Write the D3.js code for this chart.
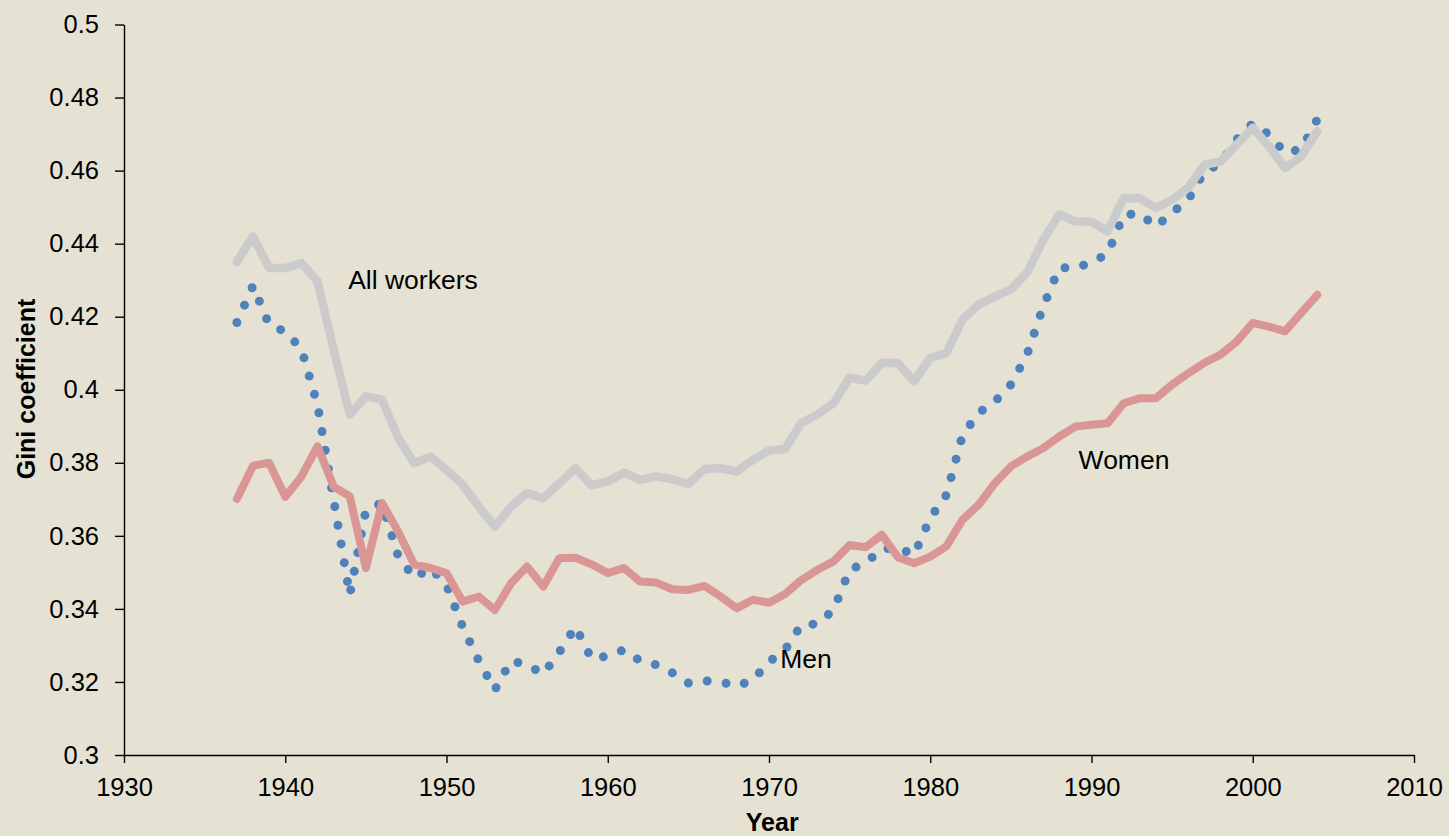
<!DOCTYPE html>
<html>
<head>
<meta charset="utf-8">
<script src="https://cdn.jsdelivr.net/npm/d3@7"></script>
<style>
    body { margin: 0; background: #E5E2D3; }
    svg { display: block; font-family: "Liberation Sans", Arial, sans-serif; }
</style>
</head>
<body>
<svg id="chart" width="1449" height="836"></svg>
<script>
// Data, 1937-2004
const years = d3.range(1937, 2005);

const allWorkers = [
    0.435, 0.442, 0.4333, 0.4333, 0.4347, 0.4297, 0.411, 0.3932, 0.3982, 0.3973,
    0.3868, 0.3799, 0.3817, 0.3781, 0.374, 0.368, 0.3625, 0.368, 0.3717, 0.3703,
    0.3744, 0.3785, 0.3738, 0.3749, 0.3773, 0.3753, 0.3763, 0.3755, 0.3742, 0.3783,
    0.3785, 0.3776, 0.3808, 0.3834, 0.3838, 0.3909, 0.3932, 0.3963, 0.4033, 0.4025,
    0.4074, 0.4073, 0.4023, 0.4087, 0.41, 0.4192, 0.4233, 0.4255, 0.4275, 0.432,
    0.441, 0.448, 0.4461, 0.446, 0.4434, 0.4525, 0.4524, 0.4498, 0.452, 0.4553,
    0.4616, 0.4625, 0.4671, 0.4717, 0.4667, 0.4607, 0.4639, 0.4708
];

const men = [
    0.4184, 0.4285, 0.4178, 0.4159, 0.4112, 0.3959, 0.3699, 0.3438, 0.367, 0.369,
    0.3545, 0.3485, 0.3512, 0.3466, 0.3351, 0.3258, 0.3178, 0.3258, 0.3247, 0.3222,
    0.3282, 0.3351, 0.3263, 0.3271, 0.3288, 0.3258, 0.3247, 0.3225, 0.3197, 0.3203,
    0.32, 0.3189, 0.3205, 0.3255, 0.3288, 0.3356, 0.3359, 0.3397, 0.3507, 0.3526,
    0.3564, 0.3567, 0.3548, 0.3649, 0.3712, 0.3875, 0.3937, 0.3967, 0.4014, 0.4096,
    0.4227, 0.4334, 0.4334, 0.4348, 0.4373, 0.4479, 0.4482, 0.4447, 0.4485, 0.452,
    0.4597, 0.4619, 0.4685, 0.4729, 0.4699, 0.4649, 0.4658, 0.474
];

const women = [
    0.3701, 0.3792, 0.38, 0.3707, 0.3762, 0.3845, 0.3735, 0.3708, 0.3512, 0.369,
    0.3612, 0.3521, 0.3512, 0.3498, 0.342, 0.3434, 0.3397, 0.347, 0.3516, 0.3461,
    0.3539, 0.354, 0.3522, 0.3498, 0.3512, 0.3475, 0.3472, 0.3454, 0.3452, 0.3463,
    0.3434, 0.3402, 0.3425, 0.3417, 0.3441, 0.3479, 0.3507, 0.353, 0.3575, 0.3569,
    0.3603, 0.3541, 0.3525, 0.3543, 0.3571, 0.3644, 0.3685, 0.3744, 0.379, 0.3817,
    0.384, 0.3872, 0.3899, 0.3904, 0.3908, 0.3963, 0.3977, 0.3977, 0.4014, 0.4045,
    0.4074, 0.4096, 0.4132, 0.4183, 0.4173, 0.416, 0.421, 0.426
];

const xTicks = d3.range(1930, 2011, 10);
const yTicks = [0.3, 0.32, 0.34, 0.36, 0.38, 0.4, 0.42, 0.44, 0.46, 0.48, 0.5];

// Labels placed next to each series
const seriesLabels = [
    { text: 'All workers', year: 1943.9, value: 0.4277 },
    { text: 'Men', year: 1970.7, value: 0.3238 },
    { text: 'Women', year: 1989.2, value: 0.3782 }
];

const svg = d3.select('#chart');
const margin = { top: 24.5, right: 35, bottom: 81, left: 124 };
const width = 1449 - margin.left - margin.right;
const height = 836 - margin.top - margin.bottom;

const x = d3.scaleLinear().domain([1930, 2010]).range([0, width]);
const y = d3.scaleLinear().domain([0.3, 0.5]).range([height, 0]);

const g = svg.append('g').attr('transform', `translate(${margin.left},${margin.top})`);

// Axes
const xAxis = g.append('g')
    .attr('transform', `translate(0,${height})`)
    .call(d3.axisBottom(x).tickValues(xTicks).tickFormat(d3.format('d')).tickSize(8).tickPadding(15).tickSizeOuter(0));

const yAxis = g.append('g')
    .call(d3.axisLeft(y).tickValues(yTicks).tickFormat(d => String(+d.toFixed(2))).tickSize(9).tickPadding(16).tickSizeOuter(0));

[xAxis, yAxis].forEach(ax => {
    ax.select('.domain').attr('stroke', '#000').attr('stroke-width', 1.4);
    ax.selectAll('.tick line').attr('stroke', '#000').attr('stroke-width', 1.4);
    ax.selectAll('.tick text').attr('fill', '#000').style('font-size', '25.5px')
        .style('font-family', '"Liberation Sans", Arial, sans-serif');
});

// Lines
const line = d3.line()
    .x((d, i) => x(years[i]))
    .y(d => y(d));

g.append('path')
    .datum(men)
    .attr('fill', 'none')
    .attr('stroke', '#4F81BD')
    .attr('stroke-width', 9)
    .attr('stroke-linecap', 'round')
    .attr('stroke-dasharray', '0,19')
    .attr('d', line);

g.append('path')
    .datum(women)
    .attr('fill', 'none')
    .attr('stroke', '#D99694')
    .attr('stroke-width', 8)
    .attr('stroke-linejoin', 'round')
    .attr('stroke-linecap', 'round')
    .attr('d', line);

g.append('path')
    .datum(allWorkers)
    .attr('fill', 'none')
    .attr('stroke', '#CBCBCB')
    .attr('stroke-width', 8.5)
    .attr('stroke-linejoin', 'round')
    .attr('stroke-linecap', 'round')
    .attr('d', line);

// Series labels
g.selectAll('.series-label')
    .data(seriesLabels)
    .enter()
    .append('text')
    .attr('class', 'series-label')
    .attr('x', d => x(d.year))
    .attr('y', d => y(d.value))
    .style('font-size', '26.5px')
    .attr('fill', '#000')
    .text(d => d.text);

// Axis titles
svg.append('text')
    .attr('x', margin.left + x(1970.2))
    .attr('y', 831)
    .attr('text-anchor', 'middle')
    .style('font-size', '25px')
    .style('font-weight', 'bold')
    .text('Year');

svg.append('text')
    .attr('transform', 'translate(35,389) rotate(-90)')
    .attr('text-anchor', 'middle')
    .style('font-size', '25px')
    .style('font-weight', 'bold')
    .text('Gini coefficient');
</script>
</body>
</html>
